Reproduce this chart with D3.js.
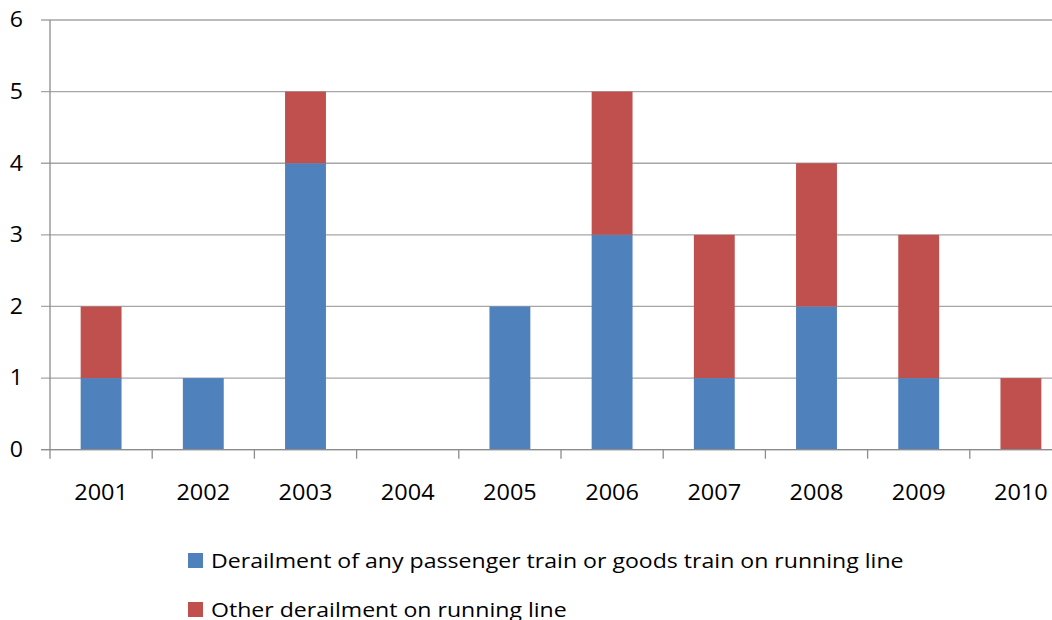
<!DOCTYPE html>
<html>
<head>
<meta charset="utf-8">
<script src="https://cdn.jsdelivr.net/npm/d3@7"></script>
<style>
  body { margin: 0; background: #fff; }
  text { font-family: "Open Sans", "Noto Sans", sans-serif; fill: #000; }
</style>
</head>
<body>
<div id="chart-area"></div>
<script>
var years = ["2001", "2002", "2003", "2004", "2005", "2006", "2007", "2008", "2009", "2010"];
var passengerGoods = [1, 1, 4, 0, 2, 3, 1, 2, 1, 0];
var otherDerailment = [1, 0, 1, 0, 0, 2, 2, 2, 2, 1];
var seriesNames = ["Derailment of any passenger train or goods train on running line", "Other derailment on running line"];
var seriesColors = ["#4f81bd", "#c0504d"];
var yTicks = [0, 1, 2, 3, 4, 5, 6];

var margin = { top: 20, left: 50 };
var width = 1022;
var height = 429.7;

var svg = d3.select("#chart-area")
	.append("svg")
	.attr("width", 1052)
	.attr("height", 620);

var g = svg.append("g")
	.attr("transform", "translate(" + margin.left + ", " + margin.top + ")");

var xScale = d3.scaleBand()
	.domain(years)
	.range([0, width])
	.paddingInner(0.6)
	.paddingOuter(0.3);

var yScale = d3.scaleLinear()
	.domain([0, 6])
	.range([height, 0]);

// gridlines
g.append("g")
	.selectAll("line")
	.data(yTicks)
	.enter().append("line")
	.attr("x1", -9)
	.attr("x2", width)
	.attr("y1", d => yScale(d))
	.attr("y2", d => yScale(d))
	.attr("stroke", "#a6a6a6")
	.attr("stroke-width", 1.3);

var table = years.map((y, i) => ({ year: y, a: passengerGoods[i], b: otherDerailment[i] }));
var stacked = d3.stack().keys(["a", "b"])(table);

g.append("g")
	.selectAll("g")
	.data(stacked)
	.enter().append("g")
	.attr("fill", (d, i) => seriesColors[i])
	.selectAll("rect")
	.data(d => d)
	.enter().append("rect")
	.attr("x", d => xScale(d.data.year))
	.attr("width", xScale.bandwidth())
	.attr("y", d => yScale(d[1]))
	.attr("height", d => yScale(d[0]) - yScale(d[1]));

// y axis line
g.append("line")
	.attr("x1", 0).attr("x2", 0)
	.attr("y1", 0).attr("y2", height)
	.attr("stroke", "#8c8c8c")
	.attr("stroke-width", 1.3);

// x axis line and ticks
g.append("line")
	.attr("x1", -9).attr("x2", width)
	.attr("y1", height).attr("y2", height)
	.attr("stroke", "#8c8c8c")
	.attr("stroke-width", 1.3);

var step = xScale.step();
g.append("g")
	.selectAll("line")
	.data(d3.range(years.length + 1))
	.enter().append("line")
	.attr("x1", d => d * step)
	.attr("x2", d => d * step)
	.attr("y1", height)
	.attr("y2", height + 9)
	.attr("stroke", "#8c8c8c")
	.attr("stroke-width", 1.3);

// y labels (text in the original is a little wider than Open Sans)
g.append("g")
	.selectAll("text")
	.data(yTicks)
	.enter().append("text")
	.attr("transform", d => "translate(-27," + yScale(d) + ") scale(1.1,1)")
	.attr("dy", "0.35em")
	.attr("text-anchor", "end")
	.attr("font-size", "21px")
	.text(d => d);

// x labels
g.append("g")
	.selectAll("text")
	.data(years)
	.enter().append("text")
	.attr("transform", d => "translate(" + (xScale(d) + xScale.bandwidth() / 2) + "," + (height + 43) + ") scale(1.12,1)")
	.attr("dy", "0.35em")
	.attr("text-anchor", "middle")
	.attr("font-size", "21px")
	.text(d => d);

// legend
var legend = svg.append("g")
	.selectAll("g")
	.data(seriesNames)
	.enter().append("g")
	.attr("transform", (d, i) => "translate(188," + (553 + i * 49) + ")");

legend.append("rect")
	.attr("width", 15)
	.attr("height", 15)
	.attr("fill", (d, i) => seriesColors[i]);

legend.append("text")
	.attr("transform", "translate(23,7.5) scale(1.155,1)")
	.attr("dy", "0.35em")
	.attr("font-size", "20px")
	.text(d => d);
</script>
</body>
</html>
